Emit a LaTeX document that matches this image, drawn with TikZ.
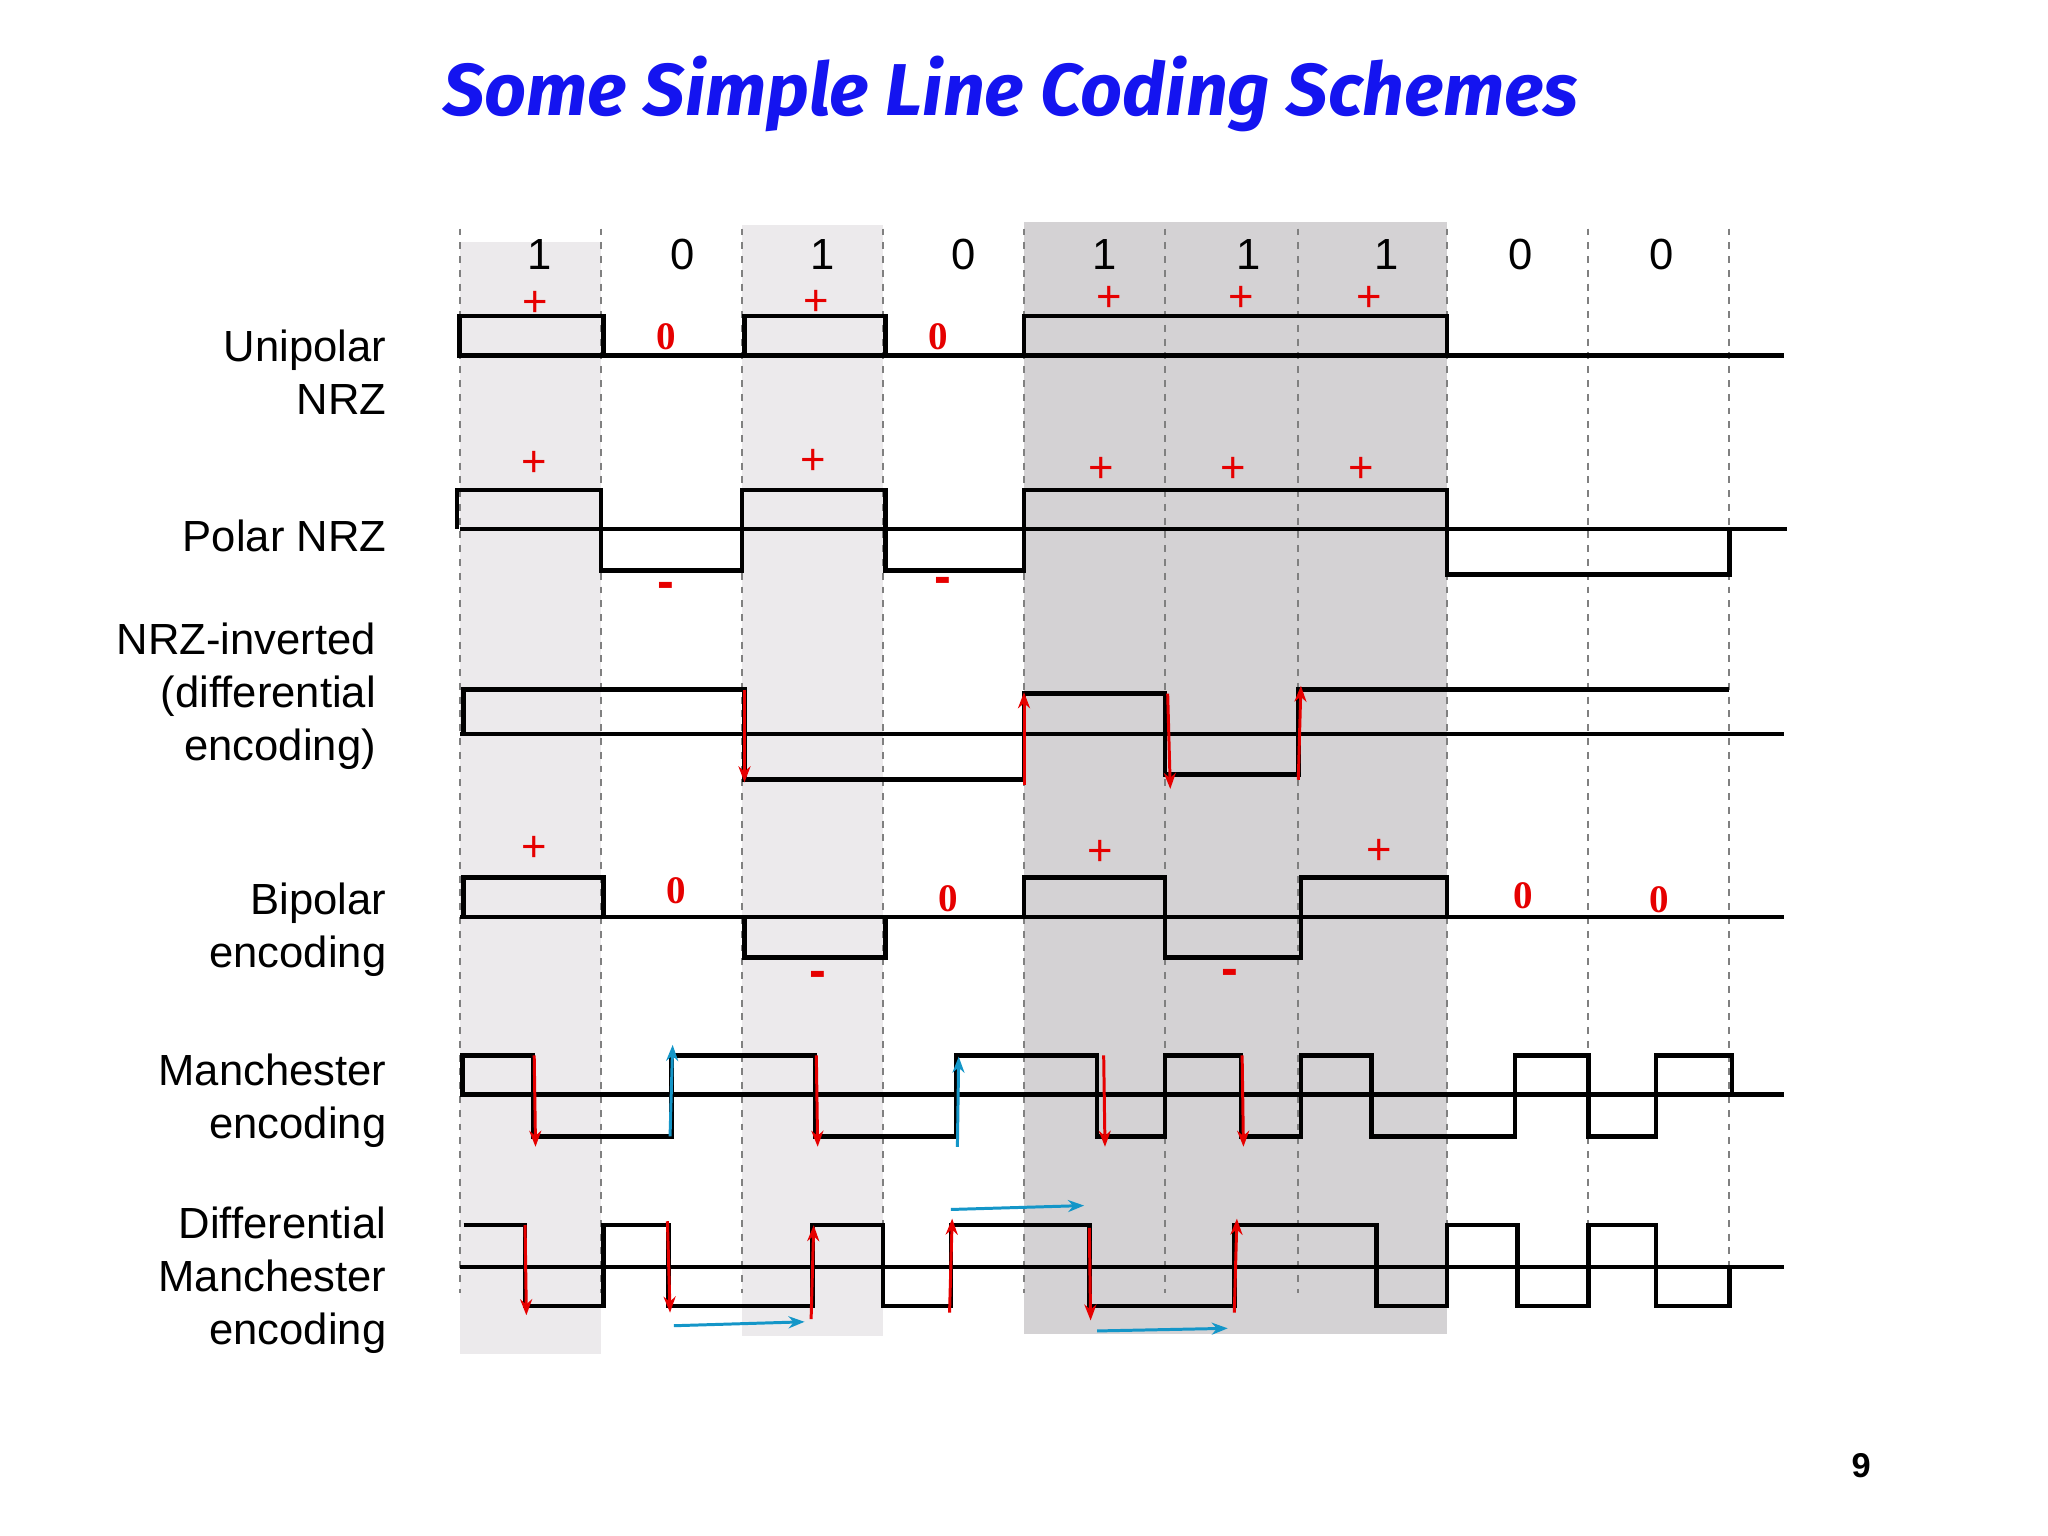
\documentclass[tikz,border=0pt]{standalone}
\usepackage{fontspec}
\setmainfont{Liberation Sans}
\newfontfamily\titlefont{Fira Sans}
\newfontfamily\serifz{Liberation Serif}
\usetikzlibrary{arrows.meta}
\definecolor{lg}{RGB}{236,234,236}
\definecolor{dg}{RGB}{212,210,212}
\definecolor{rd}{RGB}{230,0,0}
\definecolor{bl}{RGB}{20,150,200}
\definecolor{tb}{RGB}{20,20,240}
\begin{document}
\begin{tikzpicture}[x=0.02cm,y=-0.02cm,
  wave/.style={line width=2pt,line join=miter},
  base/.style={line width=2pt},
  grid/.style={dashed,gray,line width=0.8pt},
  lab/.style={font=\fontsize{19}{23}\selectfont,align=right,anchor=east},
  bit/.style={font=\fontsize{19}{23}\selectfont},
  pl/.style={text=rd,font=\fontsize{19}{23}\selectfont,inner sep=0pt},
  zr/.style={text=rd,font=\fontsize{17}{18}\selectfont\bfseries\serifz},
  ra/.style={rd,line width=1.3pt,-{Stealth[length=7pt]}},
  ba/.style={bl,line width=1.3pt,-{Stealth[length=7pt]}}]
\useasboundingbox (0,0) rectangle (1568,1176);
\fill[white] (0,0) rectangle (1568,1176);
% shading
\fill[lg] (352,185) rectangle (460,1037);
\fill[lg] (568,172) rectangle (676,1023);
\fill[dg] (784,170) rectangle (1108,1021);
\foreach \x in {352,460,568,676,784,892,994,1108,1216,1324}
  \draw[grid] (\x,175) -- (\x,990);
% title
\node[text=tb,font=\fontsize{32}{36}\selectfont\titlefont\bfseries\itshape] (title) at (774,72) {Some Simple Line Coding Schemes};
\node[font=\fontsize{15}{18}\selectfont\bfseries] (pg) at (1425,1122) {9};
% bits
\foreach \x/\b in {413/1,523/0,630/1,738/0,846/1,956/1,1062/1,1164/0,1272/0}
  \node[bit] at (\x,195) {\b};
% labels
\node[lab] (l1) at (302,285) {Unipolar\\NRZ};
\node[lab] (l2) at (302,410) {Polar NRZ};
\node[lab] (l3) at (294,533) {NRZ-inverted\\(differential\\encoding)};
\node[lab] (l4) at (302,712) {Bipolar\\encoding};
\node[lab] (l5) at (302,843) {Manchester\\encoding};
\node[lab] (l6) at (302,980) {Differential\\Manchester\\encoding};
% unipolar
\draw[base] (352,272) -- (1366,272);
\draw[wave] (352,272) rectangle (462,242);
\draw[wave] (570,272) rectangle (678,242);
\draw[wave] (784,272) rectangle (1108,242);
\foreach \x/\y in {410/233,625/232,849/229,950/229,1048/229} \node[pl] at (\x,\y) {+};
\node[zr] at (510,258) {0}; \node[zr] at (718,258) {0};
% polar
\draw[base] (352,405) -- (1368,405);
\draw[wave] (350,405) -- (350,375) -- (460,375) -- (460,437) -- (568,437) -- (568,375) -- (678,375) -- (678,437) -- (784,437) -- (784,375) -- (1108,375) -- (1108,440) -- (1324,440) -- (1324,405);
\foreach \x/\y in {409/355,623/354,843/360,944/360,1042/360} \node[pl] at (\x,\y) {+};
\node[pl,font=\fontsize{22}{24}\selectfont\bfseries] at (510,452) {-};
\node[pl,font=\fontsize{22}{24}\selectfont\bfseries] at (722,448) {-};
% NRZI
\draw[base] (352,562) -- (1366,562);
\draw[wave] (355,562) -- (355,528) -- (570,528) -- (570,597) -- (784,597) -- (784,531) -- (892,531) -- (892,593) -- (994,593) -- (994,528) -- (1324,528);
\draw[ra] (570,528) -- (570,599);
\draw[ra] (784,601) -- (784,530);
\draw[ra] (894,531) -- (896,604);
\draw[ra] (994,597) -- (996,525);
% bipolar
\draw[base] (352,702) -- (1366,702);
\draw[wave] (355,702) -- (355,672) -- (462,672) -- (462,702);
\draw[wave] (570,702) -- (570,733) -- (678,733) -- (678,702);
\draw[wave] (784,702) -- (784,672) -- (892,672) -- (892,733) -- (996,733) -- (996,672) -- (1108,672) -- (1108,702);
\node[pl] at (409,650) {+}; \node[pl] at (842,653) {+}; \node[pl] at (1056,652) {+};
\node[zr] at (518,682) {0}; \node[zr] at (726,688) {0}; \node[zr] at (1166,686) {0}; \node[zr] at (1270,689) {0};
\node[pl,font=\fontsize{22}{24}\selectfont\bfseries] at (626,750) {-};
\node[pl,font=\fontsize{22}{24}\selectfont\bfseries] at (942,748) {-};
% Manchester
\draw[base] (352,838) -- (1366,838);
\draw[wave] (354,838) -- (354,808) -- (408,808) -- (408,870) -- (514,870) -- (514,808) -- (624,808) -- (624,870) -- (732,870) -- (732,808) -- (840,808) -- (840,870) -- (892,870) -- (892,808) -- (950,808) -- (950,870) -- (996,870) -- (996,808) -- (1050,808) -- (1050,870) -- (1160,870) -- (1160,808) -- (1216,808) -- (1216,870) -- (1268,870) -- (1268,808) -- (1326,808) -- (1326,838);
\foreach \x in {409,625,845,951} \draw[ra] (\x,808) -- (\x+1,878);
\draw[ba] (513,870) -- (515,800);
\draw[ba] (733,878) -- (734,809);
% Differential Manchester
\draw[base] (352,970) -- (1366,970);
\draw[wave] (355,938) -- (402,938) -- (402,1000) -- (462,1000) -- (462,938) -- (512,938) -- (512,1000) -- (622,1000) -- (622,938) -- (676,938) -- (676,1000) -- (728,1000) -- (728,938) -- (834,938) -- (834,1000) -- (945,1000) -- (945,938) -- (1054,938) -- (1054,1000) -- (1108,1000) -- (1108,938) -- (1162,938) -- (1162,1000) -- (1216,1000) -- (1216,938) -- (1268,938) -- (1268,1000) -- (1324,1000) -- (1324,970);
\draw[ra] (402,938) -- (403,1007);
\draw[ra] (511,935) -- (513,1005);
\draw[ra] (621,1010) -- (623,938);
\draw[ra] (727,1005) -- (729,933);
\draw[ra] (834,940) -- (835,1011);
\draw[ra] (945,1005) -- (947,933);
\draw[ba] (516,1015) -- (616,1012);
\draw[ba] (728,926) -- (830,923);
\draw[ba] (840,1019) -- (940,1017);
\end{tikzpicture}
\end{document}
